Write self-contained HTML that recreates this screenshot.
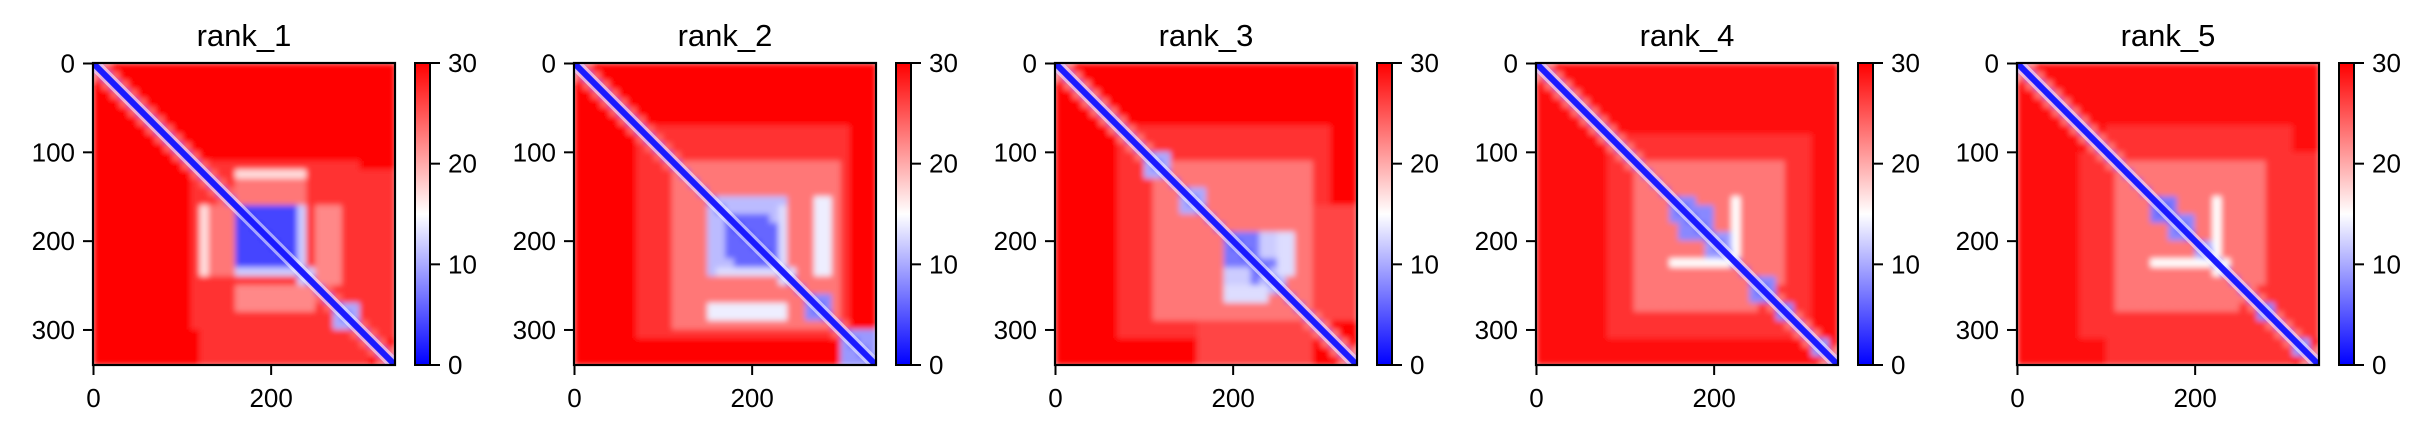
<!DOCTYPE html>
<html><head><meta charset="utf-8"><style>
html,body{margin:0;padding:0;background:#fff;}
svg text{font-family:"Liberation Sans",sans-serif;fill:#000;}
</style></head><body>
<svg id="fig" width="2428" height="432" viewBox="0 0 2428 432" xmlns="http://www.w3.org/2000/svg">
<defs>
<linearGradient id="bwr" x1="0" y1="1" x2="0" y2="0">
<stop offset="0" stop-color="#0000ff"/><stop offset="0.5" stop-color="#ffffff"/><stop offset="1" stop-color="#ff0000"/>
</linearGradient>
<filter id="soft" x="0" y="0" width="1" height="1"><feGaussianBlur stdDeviation="3" edgeMode="duplicate"/></filter>
</defs>
</svg>
<script>
// ---- data ----
const panelTitles = ["rank_1","rank_2","rank_3","rank_4","rank_5"];
const nResidues = 340;
const nBins = 34;
const xTicks = [0, 200];
const yTicks = [0, 100, 200, 300];
const cbarTicks = [0, 10, 20, 30];
const bgValues = [30, 30, 30, 29, 29];
// diagonal PAE at offset 0,1 bins from diagonal
const diag1 = [2, 24];
const diag2 = [2, 24];
const diag3 = [2, 23];
const diag4 = [2, 23];
const diag5 = [2, 23];
// region blocks: [rowStart,rowEnd,colStart,colEnd,PAE] (bins, inclusive; mirrored)
const blocks1 = [[11,28,12,29,27],[24,33,12,30,27],[16,23,12,12,17],[12,12,16,23,17],[16,23,16,23,4],[23,23,16,24,12],[13,15,16,23,23],[25,27,16,24,22],[27,29,27,29,10]];
const blocks2 = [[7,29,7,30,27],[11,28,11,29,23],[15,22,16,23,11],[18,21,17,22,6],[23,23,16,24,13],[27,28,15,23,14],[26,28,26,28,8],[30,32,30,33,9]];
const blocks3 = [[7,29,7,30,27],[11,28,11,27,23],[29,33,16,28,26],[19,25,19,25,11],[19,22,20,25,7],[23,24,19,21,12],[25,26,19,23,13],[10,12,10,12,10],[14,16,14,16,10]];
const blocks4 = [[8,30,8,30,27],[11,27,11,24,23],[15,16,15,17,8],[17,19,16,19,8],[19,21,19,22,9],[15,21,22,22,15],[24,25,24,26,8],[27,28,27,28,8],[31,32,31,32,9]];
const blocks5 = [[7,33,10,30,27],[11,27,11,24,23],[15,16,15,17,7],[18,19,17,19,8],[21,22,20,22,10],[15,23,22,22,15],[27,28,27,28,8],[31,32,31,32,9]];
const allDiag = [diag1, diag2, diag3, diag4, diag5];
const allBlocks = [blocks1, blocks2, blocks3, blocks4, blocks5];

// ---- layout ----
const NS = "http://www.w3.org/2000/svg";
const svg = document.getElementById("fig");
const panelX0 = 93, panelStep = 481, axTop = 63, axSize = 302;
function mk(tag, attrs, parent){const e=document.createElementNS(NS,tag);for(const k in attrs)e.setAttribute(k,attrs[k]);(parent||svg).appendChild(e);return e;}
function bwr(v){let t=Math.max(0,Math.min(1,v/30));let r,g,b;if(t<0.5){r=g=Math.round(2*t*255);b=255;}else{r=255;g=b=Math.round((2-2*t)*255);}return `rgb(${r},${g},${b})`;}

panelTitles.forEach((title, p) => {
  const ax = panelX0 + p*panelStep;
  const scale = v => (v + 0.5) / nResidues * axSize;
  const binPx = axSize / nBins;
  const grid = [];
  for (let i=0;i<nBins;i++){grid.push(new Array(nBins).fill(bgValues[p]));}
  allBlocks[p].forEach(b => {for(let i=b[0];i<=b[1];i++)for(let j=b[2];j<=b[3];j++){if(i<nBins&&j<nBins){grid[i][j]=b[4];grid[j][i]=b[4];}}});
  const dg = allDiag[p];
  for (let i=0;i<nBins;i++)for(let j=0;j<nBins;j++){const d=Math.abs(i-j);if(d<dg.length)grid[i][j]=Math.min(grid[i][j],dg[d]);}

  const g = mk("g", {transform:`translate(${ax},${axTop})`});
  
  
  const clipId = "clip"+p;
  const cp = mk("clipPath",{id:clipId},g); mk("rect",{x:0,y:0,width:axSize,height:axSize},cp);
  const outer = mk("g",{"clip-path":`url(#${clipId})`},g);
  const hm = mk("g",{filter:"url(#soft)"},outer);
  
  
  for (let i=0;i<nBins;i++)for(let j=0;j<nBins;j++){
    const r = mk("rect",{x:(j*binPx).toFixed(2),y:(i*binPx).toFixed(2),width:(binPx+0.6).toFixed(2),height:(binPx+0.6).toFixed(2),fill:bwr(grid[i][j])},hm);
    
    
  }
  const halo = mk("line",{x1:0,y1:0,x2:axSize,y2:axSize,stroke:"#ffffff","stroke-opacity":0.55,"stroke-width":12},outer);
  
  
  const dl = mk("line",{x1:0,y1:0,x2:axSize,y2:axSize,stroke:"#1a1aff","stroke-width":6},outer);
  
  
  const fr = mk("rect",{x:0,y:0,width:axSize,height:axSize,fill:"none",stroke:"#000","stroke-width":2.2},g);
  
  
  const t = mk("text",{x:axSize/2,y:-17,"text-anchor":"middle","font-size":31},g); t.textContent = title;
  
  
  yTicks.forEach(v => {
    const y = scale(v) - axSize/nResidues*0.5 + 0.5;
    mk("line",{x1:-10,y1:y,x2:0,y2:y,stroke:"#000","stroke-width":2},g);
    const tl = mk("text",{x:-18,y:y+9,"text-anchor":"end","font-size":26},g); tl.textContent = v;
    
    
  });
  xTicks.forEach(v => {
    const x = scale(v) - axSize/nResidues*0.5 + 0.5;
    mk("line",{x1:x,y1:axSize,x2:x,y2:axSize+10,stroke:"#000","stroke-width":2},g);
    const tl = mk("text",{x:x,y:axSize+42,"text-anchor":"middle","font-size":26},g); tl.textContent = v;
    
    
  });
  const cb = mk("g",{transform:`translate(322,0)`},g);
  
  
  mk("rect",{x:0,y:0,width:15,height:axSize,fill:"url(#bwr)",stroke:"#000","stroke-width":2},cb);
  cbarTicks.forEach(v => {
    const y = axSize - v/30*axSize;
    mk("line",{x1:15,y1:y,x2:25,y2:y,stroke:"#000","stroke-width":2},cb);
    const tl = mk("text",{x:33,y:y+9,"font-size":26},cb); tl.textContent = v;
    
    
  });
});
</script>
</body></html>
